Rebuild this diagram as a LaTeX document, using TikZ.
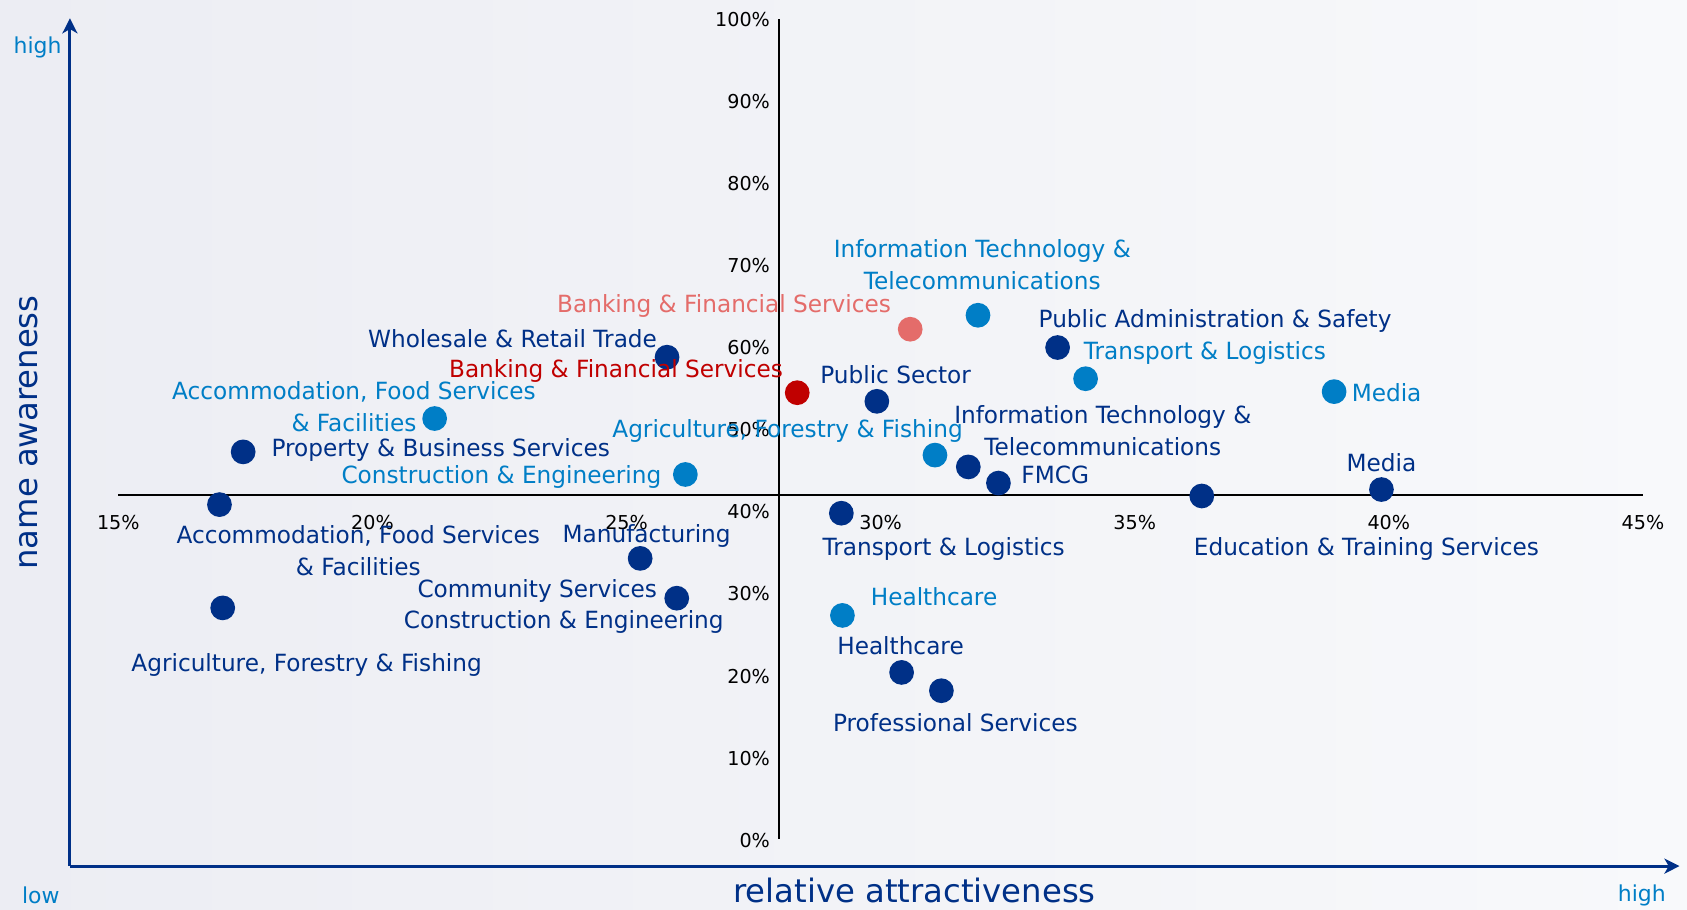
\documentclass[tikz,border=0pt]{standalone}
\usepackage{fontspec}
\setmainfont{DejaVu Sans}
\newfontfamily\labfont{DejaVu Sans}[FakeStretch=0.98]
\usetikzlibrary{arrows.meta}
\definecolor{dblue}{RGB}{0,48,135}
\definecolor{mblue}{RGB}{0,126,198}
\definecolor{bred}{RGB}{192,0,0}
\definecolor{lred}{RGB}{228,108,106}
\definecolor{bgl}{RGB}{236,237,243}
\definecolor{bgr}{RGB}{248,249,251}
\begin{document}
\begin{tikzpicture}[x=0.5pt,y=-0.5pt,
  lab/.style={inner sep=0pt, font=\labfont\fontsize{11}{15}\selectfont, align=center},
  dk/.style={lab, text=dblue},
  md/.style={lab, text=mblue},
  dotbase/.style={circle, inner sep=0pt, minimum size=11.5pt},
  ddot/.style={dotbase, fill=dblue},
  mdot/.style={dotbase, fill=mblue},
  rdot/.style={dotbase, fill=bred},
  ldot/.style={dotbase, fill=lred},
  tick/.style={inner sep=0pt, font=\fontsize{8.9}{10}\selectfont, text=black},
  axisline/.style={draw=dblue, line width=1.4pt, -{Stealth[length=7pt,width=7pt,inset=2pt]}},
  cross/.style={draw=black, line width=1.3pt},
  end/.style={inner sep=0pt, font=\fontsize{10.2}{12}\selectfont, text=mblue},
  title/.style={inner sep=0pt, font=\fontsize{15}{18}\selectfont, text=dblue}]
% background
\shade[left color=bgl, right color=bgr] (0,0) rectangle (1568,845);
\useasboundingbox (0,0) rectangle (1568,845);

% cross lines
\coordinate (hl) at (110,460);
\coordinate (hr) at (1527,460);
\coordinate (vt) at (724,18);
\coordinate (vb) at (724,780);
\draw[cross] (hl) -- (hr);
\draw[cross] (vt) -- (vb);

% x tick labels
\foreach \v [count=\i from 0] in {15,20,25,30,35,40,45}
  \node[tick] (xt\v) at ({110+236.17*\i},486) {\v\%};
% y tick labels
\foreach \v [count=\i from 0] in {100,90,80,70,60,50,40,30,20,10,0}
  \node[tick, anchor=east] (yt\v) at (716,{18+76.3*\i}) {\v\%};

% axes
\coordinate (o) at (65,805);
\coordinate (ytop) at (65,17);
\coordinate (xend) at (1561,805);
\draw[axisline] (o) -- (ytop);
\draw[axisline] (o) -- (xend);
\node[end] (yhigh) at (35,44) {high};
\node[end] (ylow) at (38,832) {low};
\node[end] (xhigh) at (1526,832) {high};
\node[title, rotate=90] (ytitle) at (27,402) {name awareness};
\node[title] (xtitle) at (850,828) {relative attractiveness};

% dark blue points
\node[ddot] (whole) at (620,332) {};
\node[dk, anchor=east] (wholeL) at (611,315) {Wholesale \& Retail Trade};
\node[ddot] (prop) at (226,420) {};
\node[dk, anchor=west] (propL) at (252,418) {Property \& Business Services};
\node[ddot] (accD) at (204,469) {};
\node[dk] (accDL) at (333,512) {Accommodation, Food Services\\\& Facilities};
\node[ddot] (agrD) at (207,565) {};
\node[dk] (agrDL) at (285,618) {Agriculture, Forestry \& Fishing};
\node[ddot] (manu) at (595,519) {};
\node[dk] (manuL) at (601,498) {Manufacturing};
\node[ddot] (comm) at (629,556) {};
\node[dk, anchor=east] (commL) at (611,549) {Community Services};
\node[dk] (consDL) at (524,578) {Construction \& Engineering};
\node[ddot] (pubs) at (815,373) {};
\node[dk, anchor=west] (pubsL) at (762,348) {Public Sector};
\node[ddot] (pubA) at (983,323) {};
\node[dk, anchor=west] (pubAL) at (965,298) {Public Administration \& Safety};
\node[ddot] (itD) at (900,434) {};
\node[dk] (itDL) at (1025,400) {Information Technology \&\\Telecommunications};
\node[ddot] (fmcg) at (928,449) {};
\node[dk, anchor=west] (fmcgL) at (949,441) {FMCG};
\node[ddot] (edu) at (1117,461) {};
\node[dk] (eduL) at (1270,510) {Education \& Training Services};
\node[ddot] (medD) at (1284,455) {};
\node[dk] (medDL) at (1284,430) {Media};
\node[ddot] (traD) at (782,477) {};
\node[dk] (traDL) at (877,510) {Transport \& Logistics};
\node[ddot] (heaD) at (838,625) {};
\node[dk] (heaDL) at (837,600) {Healthcare};
\node[ddot] (prof) at (875,642) {};
\node[dk] (profL) at (888,672) {Professional Services};

% medium blue points
\node[mdot] (itM) at (909,293) {};
\node[md] (itML) at (913,246) {Information Technology \&\\Telecommunications};
\node[mdot] (traM) at (1009,352) {};
\node[md, anchor=west] (traML) at (1007,328) {Transport \& Logistics};
\node[mdot] (medM) at (1240,364) {};
\node[md, anchor=west] (medML) at (1256,365) {Media};
\node[mdot] (agrM) at (869,423) {};
\node[md] (agrML) at (732,401) {Agriculture, Forestry \& Fishing};
\node[mdot] (consM) at (637,441) {};
\node[md, anchor=east] (consML) at (615,443) {Construction \& Engineering};
\node[mdot] (accM) at (404,389) {};
\node[md] (accML) at (329,378) {Accommodation, Food Services\\\& Facilities};
\node[mdot] (heaM) at (783,572) {};
\node[md, anchor=west] (heaML) at (809,555) {Healthcare};

% red points
\node[ldot] (bankL) at (846,306) {};
\node[lab, text=lred] (bankLL) at (673,284) {Banking \& Financial Services};
\node[rdot] (bankR) at (741,365) {};
\node[lab, text=bred, anchor=east] (bankRL) at (728,345) {Banking \& Financial Services};
\end{tikzpicture}
\end{document}
